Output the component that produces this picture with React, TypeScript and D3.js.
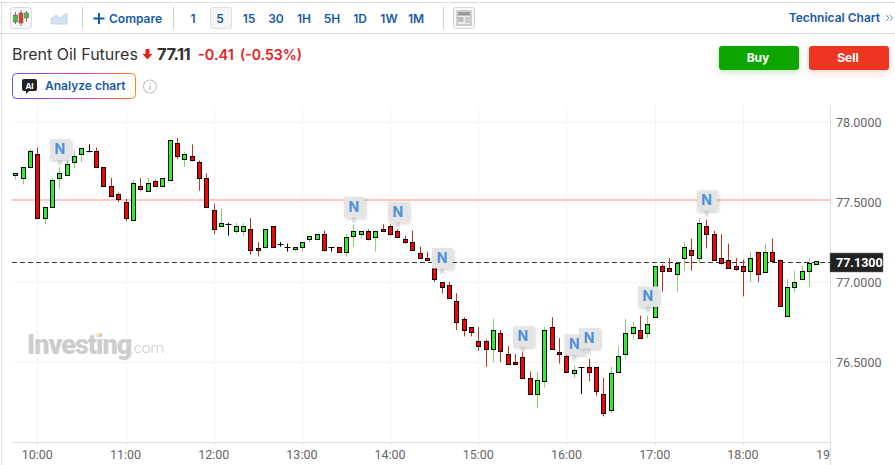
import * as d3 from "d3";

// --- Data (5 minute candles from 09:45) ---

const opens = [
  77.67, 77.65, 77.72, 77.8, 77.4, 77.47, 77.65, 77.67, 77.75, 77.8,
  77.82, 77.82, 77.72, 77.6, 77.55, 77.5, 77.39, 77.6, 77.57, 77.63,
  77.6, 77.64, 77.87, 77.77, 77.79, 77.75, 77.65, 77.45, 77.35, 77.36,
  77.32, 77.32, 77.33, 77.21, 77.22, 77.35, 77.24, 77.22, 77.21, 77.22,
  77.27, 77.27, 77.3, 77.22, 77.22, 77.19, 77.29, 77.3, 77.32, 77.28,
  77.33, 77.35, 77.32, 77.27, 77.25, 77.18, 77.15, 77.09, 77.0, 76.98,
  76.88, 76.77, 76.72, 76.63, 76.63, 76.58, 76.68, 76.55, 76.5, 76.53,
  76.4, 76.3, 76.38, 76.72, 76.56, 76.54, 76.43, 76.47, 76.47, 76.47,
  76.3, 76.2, 76.44, 76.55, 76.68, 76.7, 76.68, 76.78, 77.1, 77.09,
  77.05, 77.15, 77.2, 77.15, 77.35, 77.3, 77.15, 77.14, 77.1, 77.1,
  77.07, 77.19, 77.06, 77.19, 77.14, 76.79, 76.97, 77.02, 77.07, 77.11,
];
const highs = [
  77.68, 77.72, 77.83, 77.84, 77.47, 77.65, 77.72, 77.76, 77.82, 77.84,
  77.86, 77.84, 77.72, 77.65, 77.56, 77.52, 77.64, 77.65, 77.65, 77.64,
  77.65, 77.89, 77.9, 77.81, 77.86, 77.76, 77.68, 77.49, 77.46, 77.37,
  77.37, 77.37, 77.4, 77.25, 77.33, 77.35, 77.25, 77.24, 77.22, 77.25,
  77.29, 77.3, 77.32, 77.22, 77.22, 77.3, 77.36, 77.32, 77.33, 77.32,
  77.36, 77.36, 77.33, 77.29, 77.32, 77.22, 77.19, 77.09, 77.0, 77.0,
  76.93, 76.78, 76.72, 76.72, 76.64, 76.77, 76.7, 76.6, 76.55, 76.6,
  76.44, 76.44, 76.72, 76.78, 76.65, 76.56, 76.48, 76.47, 76.52, 76.47,
  76.4, 76.47, 76.6, 76.77, 76.75, 76.79, 76.79, 77.1, 77.11, 77.15,
  77.12, 77.25, 77.27, 77.4, 77.39, 77.32, 77.3, 77.24, 77.15, 77.14,
  77.19, 77.19, 77.24, 77.27, 77.14, 77.02, 77.07, 77.1, 77.15, 77.13,
];
const lows = [
  77.64, 77.61, 77.72, 77.4, 77.36, 77.47, 77.58, 77.67, 77.71, 77.75,
  77.81, 77.72, 77.6, 77.54, 77.5, 77.38, 77.39, 77.57, 77.57, 77.6,
  77.6, 77.64, 77.77, 77.72, 77.76, 77.57, 77.47, 77.3, 77.35, 77.29,
  77.3, 77.29, 77.17, 77.16, 77.22, 77.22, 77.22, 77.19, 77.19, 77.19,
  77.25, 77.27, 77.19, 77.19, 77.19, 77.16, 77.22, 77.27, 77.26, 77.19,
  77.32, 77.29, 77.28, 77.24, 77.2, 77.15, 77.13, 77.0, 76.93, 76.9,
  76.7, 76.66, 76.66, 76.57, 76.47, 76.5, 76.5, 76.49, 76.49, 76.4,
  76.3, 76.21, 76.34, 76.58, 76.49, 76.44, 76.4, 76.3, 76.38, 76.29,
  76.16, 76.18, 76.44, 76.52, 76.64, 76.65, 76.65, 76.78, 76.94, 77.07,
  76.94, 77.07, 77.07, 77.12, 77.21, 77.14, 77.11, 77.09, 77.07, 76.91,
  77.0, 77.0, 77.06, 77.13, 76.85, 76.79, 76.94, 77.02, 76.97, 77.11,
];
const closes = [
  77.68, 77.72, 77.82, 77.4, 77.47, 77.64, 77.68, 77.74, 77.79, 77.84,
  77.82, 77.72, 77.6, 77.54, 77.52, 77.4, 77.62, 77.58, 77.62, 77.6,
  77.65, 77.89, 77.79, 77.8, 77.76, 77.65, 77.47, 77.33, 77.37, 77.36,
  77.35, 77.35, 77.2, 77.2, 77.33, 77.22, 77.24, 77.22, 77.22, 77.25,
  77.29, 77.3, 77.2, 77.22, 77.19, 77.28, 77.32, 77.32, 77.27, 77.32,
  77.32, 77.3, 77.28, 77.25, 77.2, 77.15, 77.14, 77.02, 76.97, 76.9,
  76.75, 76.7, 76.69, 76.6, 76.58, 76.7, 76.57, 76.49, 76.49, 76.4,
  76.3, 76.39, 76.7, 76.58, 76.55, 76.44, 76.45, 76.47, 76.44, 76.32,
  76.18, 76.43, 76.54, 76.68, 76.72, 76.65, 76.74, 77.1, 77.07, 77.07,
  77.12, 77.22, 77.17, 77.37, 77.3, 77.14, 77.12, 77.09, 77.08, 77.07,
  77.15, 77.05, 77.19, 77.13, 76.85, 76.97, 77.0, 77.07, 77.12, 77.13,
];

const priceTicks = [78, 77.5, 77, 76.5];
const hourLabels = ["10:00", "11:00", "12:00", "13:00", "14:00", "15:00", "16:00", "17:00", "18:00"];
const intervals = ["1", "5", "15", "30", "1H", "5H", "1D", "1W", "1M"];
const intervalCenters = [193, 220, 249, 276, 304, 332, 360, 389, 416];

// news flags: candle number and the price level where the flag sits
const newsCandles = [6, 46, 52, 58, 69, 76, 78, 86, 94];
const newsPrices = [77.83, 77.47, 77.44, 77.15, 76.66, 76.61, 76.65, 76.91, 77.51];

const lastPrice = 77.13;
const prevClose = 77.52;

// --- Layout ---

const PLOT = { left: 12, right: 830, top: 105, bottom: 442 };
const BLUE = "#1a5aa6";
const UI_FONT = "Inter, Roboto, sans-serif";
const AXIS_FONT = "Roboto, sans-serif";
const COLORS = {
  up: "#2bf02b",
  down: "#ff0000",
  upWick: "#8ccb7c",
  downWick: "#c0301c",
  grid: "#f4f4f4",
  axis: "#dedede",
};

const startTime = new Date(2024, 0, 8, 9, 45);
const times = opens.map((_, i) => d3.timeMinute.offset(startTime, i * 5));

const x = d3
  .scaleTime()
  .domain([new Date(2024, 0, 8, 10, 0), new Date(2024, 0, 8, 19, 0)])
  .range([37.3, 831.1]);
const y = d3.scaleLinear().domain([76.5, 78]).range([362, 122]);

// snap to the middle of a pixel so the 1px lines stay crisp
const crisp = (v: number) => Math.round(v) + 0.5;

function Candles() {
  return (
    <g>
      {times.map((t, i) => {
        const cx = crisp(x(t));
        const doji = opens[i] === closes[i];
        const up = closes[i] > opens[i];
        const wick = doji ? "#000" : up ? COLORS.upWick : COLORS.downWick;
        const top = crisp(y(Math.max(opens[i], closes[i])));
        const bottom = crisp(y(Math.min(opens[i], closes[i])));
        return (
          <g key={i}>
            <line x1={cx} x2={cx} y1={y(highs[i])} y2={y(lows[i])} stroke={wick} strokeWidth={1} />
            {doji ? (
              <line x1={cx - 3} x2={cx + 3} y1={top} y2={top} stroke="#000" strokeWidth={1} />
            ) : (
              <rect
                x={cx - 2}
                y={top}
                width={4}
                height={Math.max(bottom - top, 2)}
                fill={up ? COLORS.up : COLORS.down}
                stroke="#000"
                strokeWidth={1}
              />
            )}
          </g>
        );
      })}
    </g>
  );
}

function NewsFlags() {
  return (
    <g>
      {newsCandles.map((c, i) => {
        const cx = x(times[c]) + 0.5;
        const cy = y(newsPrices[i]);
        return (
          <g key={c}>
            <rect x={cx - 2} y={cy + 9} width={4} height={7} fill="#e6e6e6" />
            <rect
              x={cx - 10}
              y={cy - 10}
              width={20.5}
              height={20.5}
              fill="#e4e4e4"
              filter="url(#flagShadow)"
            />
            <text
              x={cx}
              y={cy + 5}
              textAnchor="middle"
              fontFamily={UI_FONT}
              fontSize={14}
              fontWeight={700}
              fill="#4a90dc"
            >
              N
            </text>
          </g>
        );
      })}
    </g>
  );
}

function Toolbar() {
  return (
    <g>
      <line x1={0} x2={895} y1={2.5} y2={2.5} stroke="#dcdcdc" />
      <line x1={0} x2={895} y1={33.5} y2={33.5} stroke="#dcdcdc" />

      {/* candle icon */}
      <rect x={10.5} y={7.5} width={21} height={21} rx={2} fill="#f6f6f6" stroke="#dcdcdc" />
      <line x1={15.5} x2={15.5} y1={12} y2={24} stroke="#777" />
      <rect x={13.5} y={15} width={4} height={7} fill="#4db848" stroke="#555" strokeWidth={0.5} />
      <line x1={21} x2={21} y1={10} y2={26} stroke="#777" />
      <rect x={19} y={13} width={4} height={10} fill="#e8402c" stroke="#555" strokeWidth={0.5} />
      <line x1={26.5} x2={26.5} y1={11} y2={22} stroke="#777" />
      <rect x={24.5} y={13} width={4} height={5} fill="#4db848" stroke="#555" strokeWidth={0.5} />

      {/* area icon */}
      <path d="M51,19 L56,15 L60,18 L67,13 L67,24 L51,24 Z" fill="#d5e3f0" stroke="#b9cbdc" strokeWidth={0.8} />

      <line x1={82.5} x2={82.5} y1={7} y2={29} stroke="#cfcfcf" />
      <path d="M99,13 V24 M93.5,18.5 H104.5" stroke={BLUE} strokeWidth={2} />
      <text x={109} y={22.5} fontFamily={UI_FONT} fontSize={12} fontWeight={600} fill={BLUE}>
        Compare
      </text>
      <line x1={173.5} x2={173.5} y1={7} y2={29} stroke="#cfcfcf" />

      <rect x={210.5} y={7.5} width={21} height={21} rx={2} fill="#f5f5f5" stroke="#e0e0e0" />
      {intervals.map((label, i) => (
        <text
          key={label}
          x={intervalCenters[i]}
          y={22.5}
          textAnchor="middle"
          fontFamily={UI_FONT}
          fontSize={12}
          fontWeight={600}
          fill={BLUE}
        >
          {label}
        </text>
      ))}
      <line x1={443.5} x2={443.5} y1={7} y2={29} stroke="#cfcfcf" />

      {/* layout icon */}
      <rect x={453.5} y={7.5} width={21} height={21} rx={2} fill="#f6f6f6" stroke="#d6d6d6" />
      <rect x={457} y={11} width={14} height={14} fill="#eee" stroke="#aaa" />
      <rect x={458} y={12} width={12} height={3.5} fill="#999" />
      <rect x={458} y={17} width={5.5} height={5} fill="#bbb" />
      <path d="M465,18 H470 M465,20 H470 M465,22 H470" stroke="#aaa" />

      <text
        x={880}
        y={22}
        textAnchor="end"
        fontFamily={UI_FONT}
        fontSize={12}
        fontWeight={600}
        fill={BLUE}
      >
        Technical Chart
      </text>
      <path d="M886,15 L889,18 L886,21 M889.5,15 L892.5,18 L889.5,21" fill="none" stroke="#5f8cc4" />
    </g>
  );
}

function Header() {
  return (
    <g>
      <text x={12} y={60} fontFamily={UI_FONT} fontSize={16} fill="#333">
        Brent Oil Futures
      </text>
      <path d="M145.5,49 H149.5 V54 H152.5 L147.5,59.5 L142.5,54 H145.5 Z" fill="#e8201a" />
      <text x={157} y={60} fontFamily={UI_FONT} fontSize={16.5} fontWeight={700} fill="#333" letterSpacing={-0.5}>
        77.11
      </text>
      <text x={198} y={60} fontFamily={UI_FONT} fontSize={14.5} fontWeight={600} fill="#e8201a">
        -0.41
      </text>
      <text x={240} y={60} fontFamily={UI_FONT} fontSize={14} fontWeight={600} fill="#e8201a">
        (-0.53%)
      </text>

      <rect x={12.5} y={73.5} width={123} height={25} rx={4} fill="#fff" stroke="url(#aiBorder)" />
      <path d="M24,79 H35 Q37,79 37,81 V89 Q37,91 35,91 H29 L26,94 V91 H24 Q22,91 22,89 V81 Q22,79 24,79 Z" fill="#222" />
      <text x={29.5} y={88.5} textAnchor="middle" fontFamily={UI_FONT} fontSize={8} fontWeight={700} fill="#fff">
        AI
      </text>
      <text x={45} y={90} fontFamily={UI_FONT} fontSize={12} fontWeight={600} fill={BLUE}>
        Analyze chart
      </text>
      <circle cx={150} cy={86.5} r={6.5} fill="#fff" stroke="#c4c4c4" strokeWidth={1.2} />
      <path d="M150,85.5 V90 M150,83 V84" stroke="#b4b4b4" strokeWidth={1.2} />

      <rect x={719} y={46} width={80} height={24} rx={3} fill="#0ea600" filter="url(#buyShadow)" />
      <text x={758} y={62} textAnchor="middle" fontFamily={UI_FONT} fontSize={12} fontWeight={700} fill="#fff">
        Buy
      </text>
      <rect x={809} y={46} width={80} height={24} rx={3} fill="#ee3524" filter="url(#sellShadow)" />
      <text x={848} y={62} textAnchor="middle" fontFamily={UI_FONT} fontSize={12} fontWeight={700} fill="#fff">
        Sell
      </text>
    </g>
  );
}

function Axes() {
  const hours = hourLabels.map((_, i) => new Date(2024, 0, 8, 10 + i, 0));
  return (
    <g>
      {priceTicks.map((p) => (
        <g key={p}>
          <line x1={PLOT.left} x2={PLOT.right} y1={crisp(y(p))} y2={crisp(y(p))} stroke={COLORS.grid} />
          <line x1={PLOT.right} x2={PLOT.right + 3} y1={crisp(y(p))} y2={crisp(y(p))} stroke={COLORS.axis} />
          <text x={836} y={y(p) + 4.5} fontFamily={AXIS_FONT} fontSize={12.5} fill="#666">
            {p.toFixed(4)}
          </text>
        </g>
      ))}
      {hours.map((h, i) => (
        <g key={hourLabels[i]}>
          <line x1={crisp(x(h))} x2={crisp(x(h))} y1={PLOT.top} y2={PLOT.bottom} stroke={COLORS.grid} />
          <line x1={crisp(x(h))} x2={crisp(x(h))} y1={PLOT.bottom} y2={PLOT.bottom + 3} stroke={COLORS.axis} />
          <text x={x(h)} y={459} textAnchor="middle" fontFamily={AXIS_FONT} fontSize={12.5} fill="#666">
            {hourLabels[i]}
          </text>
        </g>
      ))}
      <text x={830} y={459} textAnchor="end" fontFamily={AXIS_FONT} fontSize={12.5} fill="#666">
        19
      </text>
      <line x1={PLOT.left} x2={PLOT.right} y1={PLOT.bottom + 0.5} y2={PLOT.bottom + 0.5} stroke={COLORS.axis} />
      <line x1={PLOT.right + 0.5} x2={PLOT.right + 0.5} y1={PLOT.top} y2={465} stroke={COLORS.axis} />
    </g>
  );
}

export default function App() {
  const lastY = Math.round(y(lastPrice)) + 1;
  const prevY = Math.round(y(prevClose)) + 1;
  return (
    <svg
      width={895}
      height={465}
      style={{ position: "absolute", left: 0, top: 0, display: "block", background: "#fff" }}
    >
      <defs>
        <linearGradient id="aiBorder" x1="0" x2="1" y1="0" y2="0">
          <stop offset="0" stopColor="#6a4be8" />
          <stop offset="0.55" stopColor="#d83aa0" />
          <stop offset="1" stopColor="#f58a1f" />
        </linearGradient>
        <filter id="flagShadow" x="-30%" y="-30%" width="170%" height="170%">
          <feDropShadow dx={1.5} dy={1.5} stdDeviation={1.5} floodColor="#000" floodOpacity={0.2} />
        </filter>
        <filter id="buyShadow" x="-10%" y="-30%" width="120%" height="190%">
          <feDropShadow dx={0} dy={3} stdDeviation={3} floodColor="#0ea600" floodOpacity={0.2} />
        </filter>
        <filter id="sellShadow" x="-10%" y="-30%" width="120%" height="190%">
          <feDropShadow dx={0} dy={3} stdDeviation={3} floodColor="#ee3524" floodOpacity={0.2} />
        </filter>
      </defs>

      <line x1={1.5} x2={1.5} y1={2} y2={465} stroke="#dcdcdc" />
      <Toolbar />
      <Header />
      <Axes />

      <text x={27} y={354} fontFamily="Roboto, sans-serif" fontSize={27} fontWeight={900} fill="#cdcdcd" letterSpacing={-1}>
        Investing
      </text>
      <rect x={95.5} y={333.5} width={3.5} height={3.5} fill="#fbe0b4" />
      <text x={130} y={353} fontFamily="Roboto, sans-serif" fontSize={15.5} fontWeight={300} fill="#cdcdcd">
        .com
      </text>

      <line x1={PLOT.left} x2={PLOT.right} y1={prevY} y2={prevY} stroke="#ffc4c4" strokeWidth={2} />
      <line
        x1={PLOT.left}
        x2={PLOT.right}
        y1={lastY + 0.5}
        y2={lastY + 0.5}
        stroke="#333"
        strokeDasharray="5,3"
      />

      <Candles />
      <NewsFlags />

      <rect x={830} y={lastY - 9} width={53} height={19} fill="#222" stroke="#777" strokeWidth={0.5} />
      <text x={836} y={lastY + 5} fontFamily={AXIS_FONT} fontSize={12.5} fontWeight={700} fill="#fff">
        {lastPrice.toFixed(4)}
      </text>
    </svg>
  );
}
